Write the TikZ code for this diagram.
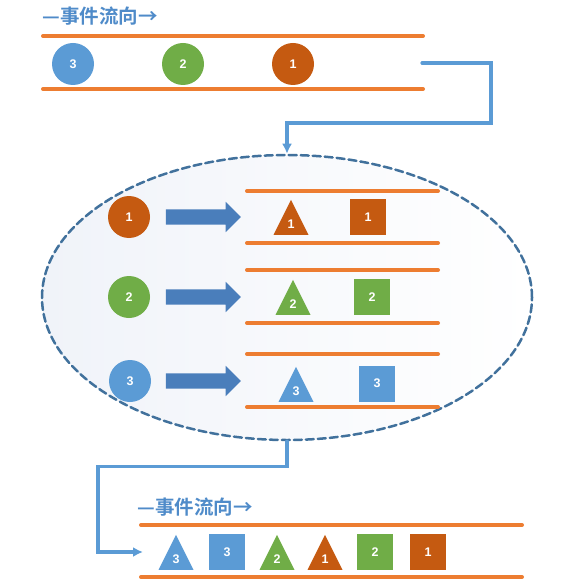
\documentclass[tikz,border=0pt]{standalone}
\usepackage{fontspec}
\setmainfont{Liberation Sans}
\newfontfamily\cjk{Noto Sans CJK SC}[BoldFont={Noto Sans CJK SC Bold}]
\usetikzlibrary{shapes.geometric,shapes.arrows,arrows.meta}
\definecolor{evorange}{HTML}{ED7D31}
\definecolor{evone}{HTML}{C55A11}
\definecolor{evtwo}{HTML}{70AD47}
\definecolor{evthree}{HTML}{5B9BD5}
\definecolor{linkblue}{HTML}{5B9BD5}
\definecolor{titleblue}{HTML}{4F8BC9}
\definecolor{poolblue}{HTML}{41719C}
\definecolor{fatblue}{HTML}{4A7EBB}
\begin{document}
\begin{tikzpicture}[x=1pt,y=-1pt,line cap=round]
	\def \toprow{64}
	\def \rowone{217}
	\def \rowtwo{297}
	\def \rowthree{381}
	\def \botrow{552}
	\tikzstyle{ball}=[circle,inner sep=0pt,minimum size=42pt,text=white,font=\bfseries\fontsize{12.5}{12.5}\selectfont]
	\tikzstyle{tri}=[isosceles triangle,isosceles triangle stretches,shape border rotate=90,anchor=south,inner sep=0pt,minimum width=35pt,minimum height=35pt,text=white,font=\bfseries\fontsize{12.5}{12.5}\selectfont]
	\tikzstyle{box}=[rectangle,inner sep=0pt,minimum size=36pt,text=white,font=\bfseries\fontsize{12.5}{12.5}\selectfont]
	\tikzstyle{rail}=[draw=evorange,line width=4pt]
	\tikzstyle{link}=[draw=linkblue,line width=3.2pt]
	\tikzstyle{fat}=[single arrow,fill=fatblue,inner sep=0pt,text height=7.5pt,text depth=7.5pt,minimum height=75pt,single arrow head extend=7.5pt]
	\tikzstyle{title}=[text=titleblue,inner sep=0pt,font=\cjk\bfseries\fontsize{19.5}{19.5}\selectfont]
	\useasboundingbox (0,0) rectangle (574,585);

	% event pool
	\node[ellipse,draw=poolblue,line width=2.5pt,dash pattern=on 8pt off 4pt,left color={rgb,255:red,240;green,243;blue,249},right color=white,minimum width=490pt,minimum height=285pt] (pool) at (287,297.5) {};

	% incoming events
	\node[title] (toptitle) at (100,16) {—事件流向→};
	\draw[rail] (43,36) -- (423,36);
	\draw[rail] (43,89) -- (423,89);
	\node[ball,fill=evthree] (in3) at (73,\toprow) {3};
	\node[ball,fill=evtwo] (in2) at (183,\toprow) {2};
	\node[ball,fill=evone] (in1) at (293,\toprow) {1};
	\coordinate (tapout) at (422,63);

	% handlers
	\node[ball,fill=evone] (ev1) at (129,\rowone) {1};
	\node[ball,fill=evtwo] (ev2) at (129,\rowtwo) {2};
	\node[ball,fill=evthree] (ev3) at (130,\rowthree) {3};
	\node[fat] (go1) at (199.5,\rowone) {};
	\node[fat] (go2) at (199.5,\rowtwo) {};
	\node[fat] (go3) at (199.5,\rowthree) {};
	\draw[rail] (247,191) -- (438,191);
	\draw[rail] (247,243) -- (438,243);
	\draw[rail] (247,270) -- (438,270);
	\draw[rail] (247,323) -- (438,323);
	\draw[rail] (247,354) -- (438,354);
	\draw[rail] (247,407) -- (438,407);
	\node[tri,fill=evone] (a1) at (291,235) {1};
	\node[box,fill=evone] (b1) at (368,217) {1};
	\node[tri,fill=evtwo] (a2) at (293,315) {2};
	\node[box,fill=evtwo] (b2) at (372,297) {2};
	\node[tri,fill=evthree] (a3) at (296,402) {3};
	\node[box,fill=evthree] (b3) at (377,383.5) {3};

	% outgoing events
	\node[title] (bottitle) at (195,507) {—事件流向→};
	\draw[rail] (141,525) -- (522,525);
	\draw[rail] (141,577) -- (522,577);
	\node[tri,fill=evthree] (o1) at (176,570) {3};
	\node[box,fill=evthree] (o2) at (227,\botrow) {3};
	\node[tri,fill=evtwo] (o3) at (277,570) {2};
	\node[tri,fill=evone] (o4) at (325,570) {1};
	\node[box,fill=evtwo] (o5) at (375,\botrow) {2};
	\node[box,fill=evone] (o6) at (428,\botrow) {1};
	\coordinate (enter) at (143,\botrow);

	\draw[link,-{Latex[length=10pt,width=10pt]}] (tapout) -- ++(69,0) -- ++(0,60) -| (pool.north);
	\draw[link,-{Latex[length=10pt,width=10pt]}] (pool.south) |- ++(-189,25) |- (enter);
\end{tikzpicture}
\end{document}
